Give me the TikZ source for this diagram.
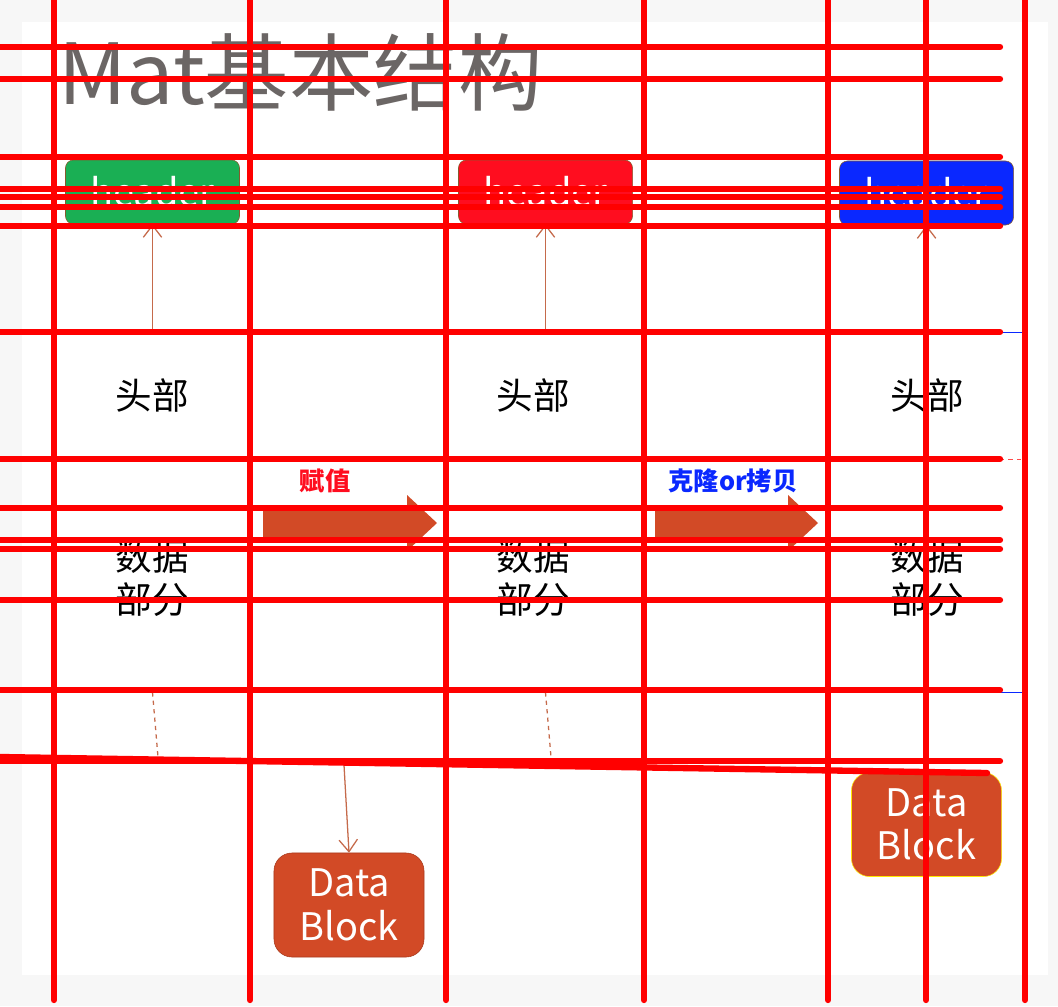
\documentclass[tikz,border=0pt]{standalone}
\usepackage{fontspec}
\newfontfamily\cjk{Noto Sans CJK SC}
\usepackage{tikz}
\usetikzlibrary{arrows.meta,positioning}
\definecolor{titlegray}{HTML}{6B6665}
\definecolor{hdrgreen}{HTML}{1AAF54}
\definecolor{hdrred}{HTML}{FF0D1F}
\definecolor{hdrblue}{HTML}{0A28FF}
\definecolor{rust}{HTML}{D24A26}
\definecolor{linkbrown}{HTML}{C56A4B}
\tikzset{
  gridline/.style={draw=red, line width=4.5pt, line cap=round},
  hdrbox/.style={draw=brown!70!black, thin, rounded corners=2mm, minimum width=4.35cm, minimum height=1.6cm, text=white, font=\cjk\fontsize{27}{32}\selectfont},
  cell/.style={minimum width=3cm, inner sep=0pt, align=center, font=\cjk\fontsize{26}{31}\selectfont},
  link/.style={linkbrown, line width=0.9pt},
  tip/.style={-{Straight Barb[length=3mm,width=4.6mm]}},
  datablk/.style={fill=rust, rounded corners=4.5mm, minimum width=3.75cm, minimum height=2.6cm, align=center, text=white, font=\cjk\fontsize{27}{31}\selectfont},
  note/.style={font=\cjk\bfseries\fontsize{18}{20}\selectfont}
}

\begin{document}
\begin{tikzpicture}[x=0.025cm, y=-0.025cm]
  \useasboundingbox (0,0) rectangle (1058,1006);
  \fill[black!3] (0,0) rectangle (1058,1006);
  \fill[white] (22,22) rectangle (1048,975);

  \node[anchor=base west, inner sep=0pt, text=titlegray, font=\cjk\fontsize{60}{70}\selectfont] (title) at (58,104) {Mat基本结构};

  \node[hdrbox, fill=hdrgreen] (hdr1) at (152.5,192) {header};
  \node[hdrbox, fill=hdrred] (hdr2) at (545.5,192) {header};
  \node[hdrbox, fill=hdrblue] (hdr3) at (926.5,193) {header};

  \foreach \n/\x in {1/152.5, 2/533, 3/927}{
    \node[cell, minimum height=3.175cm] (head\n) at (\x,395.5) {头部};
    \node[cell, minimum height=5.7cm] (data\n) at (\x,578) {数据\\部分};
  }

  \draw[link,tip] (head1.north) -- (hdr1.south);
  \draw[link,tip] (hdr2.south |- head2.north) -- (hdr2.south);
  \draw[link,tip] (head3.north) -- (hdr3.south);

  \coordinate (cut1) at (158,757);
  \coordinate (cut2) at (551,757);
  \draw[link,dashed] (data1.south) -- (cut1);
  \draw[link,dashed] (hdr2.south |- data2.south) -- (cut2);

  \node[datablk, draw=rust!80!black] (blk1) at (349,905) {Data\\Block};
  \node[datablk, draw=yellow!90!orange] (blk2) at (926.5,824.5) {Data\\Block};
  \coordinate (src) at (344,765);
  \draw[link,tip] (src) -- (blk1.north);

  \foreach \xa/\xb/\xc in {263/407/437, 655/788/818}{
    \fill[rust] (\xa,508) -- (\xb,508) -- (\xb,495) -- (\xc,523) -- (\xb,551) -- (\xb,538) -- (\xa,538) -- cycle;
  }
  \node[note, text=hdrred] (assign) at (325,481) {赋值};
  \node[note, text=hdrblue] (clone) at (733,481) {克隆or拷贝};

  \draw[hdrblue, thin] (1000,332) -- (1022,332) (1000,692) -- (1022,692);
  \draw[red!70, dashed, thin] (1000,459) -- (1022,459);

  \foreach \y in {47,79,157,189,197,207,226,332,459,508,540,549,600,690,761}{
    \draw[gridline] (0,\y) -- (1000,\y);
  }
  \draw[gridline] (0,757) -- (987,773);
  \foreach \x in {54,250,446,644,828,926,1025}{
    \draw[gridline] (\x,0) -- (\x,1000);
  }
\end{tikzpicture}
\end{document}
